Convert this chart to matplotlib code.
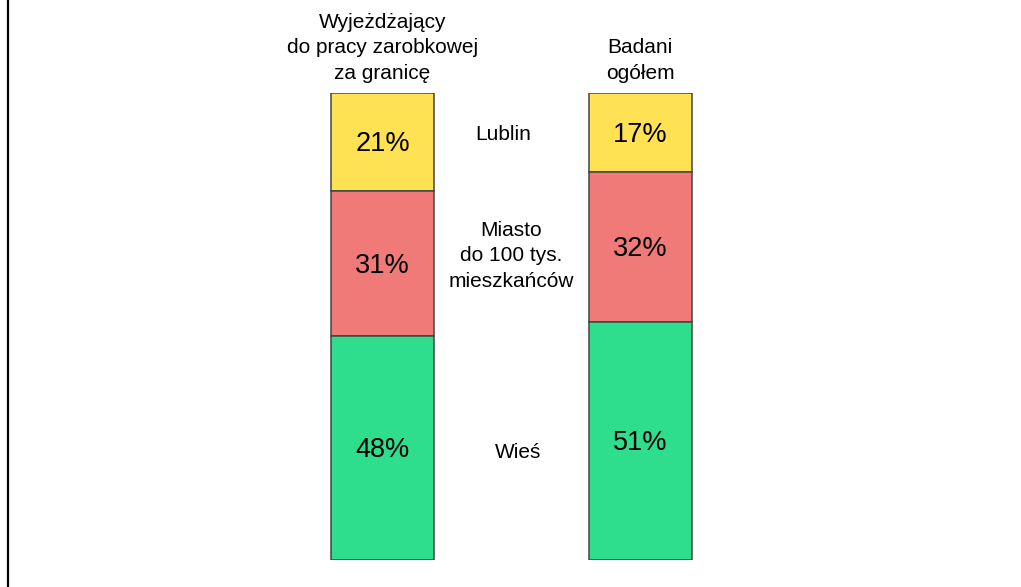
import matplotlib
matplotlib.use("Agg")
import matplotlib.pyplot as plt
from matplotlib.lines import Line2D

plt.rcParams['font.family'] = ['Liberation Sans', 'DejaVu Sans']

groups = ["Wyjeżdżający\ndo pracy zarobkowej\nza granicę", "Badani\nogółem"]
categories = ["Lublin", "Miasto\ndo 100 tys.\nmieszkańców", "Wieś"]
values = {
    "Lublin": [21, 17],
    "Miasto\ndo 100 tys.\nmieszkańców": [31, 32],
    "Wieś": [48, 51],
}
colors = ["#FFE253", "#EF7A78", "#2EDE8C"]

W, H = 1021, 587
fig = plt.figure(figsize=(W / 100, H / 100), dpi=100)
# axes: y 0..100 maps to px 93..560 ; x full width
ax = fig.add_axes([0, (H - 560) / H, 1, 467 / H])
ax.set_ylim(100, 0)
spacing = 257.5
c0 = 382.5
ax.set_xlim(-c0 / spacing, (W - c0) / spacing)
ax.axis('off')

xs = list(range(len(groups)))
bottoms = [0] * len(groups)
for cat, col in zip(categories, colors):
    vals = values[cat]
    ax.bar(xs, vals, bottom=bottoms, width=0.4, color=col,
           edgecolor='#444444', linewidth=1.1, align='center')
    for x, v, b in zip(xs, vals, bottoms):
        ax.text(x, b + v / 2 + 0.5, f"{v}%", ha='center', va='center', fontsize=19.5)
    bottoms = [b + v for b, v in zip(bottoms, vals)]

# middle category labels near left bar segment centers
label_dx = [-0.032, 0.0, 0.027]
label_dy = [-1.6, -1.6, 0.9]
b = 0
for cat, dx, dy in zip(categories, label_dx, label_dy):
    v = values[cat][0]
    ax.text(0.5 + dx, b + v / 2 + dy, cat, ha='center', va='center',
            fontsize=15, linespacing=1.42)
    b += v

for x, g in zip(xs, groups):
    ax.text(x, -2.2, g, ha='center', va='bottom', fontsize=15, linespacing=1.42)

fig.add_artist(Line2D([7.5 / W, 7.5 / W], [0, 1], transform=fig.transFigure,
                      color='black', linewidth=1.6))

fig.savefig("out.png", dpi=100)
